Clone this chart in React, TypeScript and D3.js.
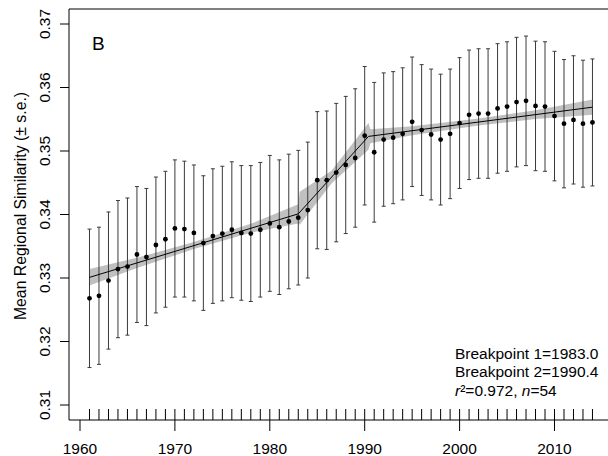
import React from "react";
import * as d3 from "d3";

const years = [1961,1962,1963,1964,1965,1966,1967,1968,1969,1970,1971,1972,1973,1974,1975,1976,1977,1978,1979,1980,1981,1982,1983,1984,1985,1986,1987,1988,1989,1990,1991,1992,1993,1994,1995,1996,1997,1998,1999,2000,2001,2002,2003,2004,2005,2006,2007,2008,2009,2010,2011,2012,2013,2014];
const means = [0.3268,0.3272,0.3296,0.3314,0.3318,0.3337,0.3333,0.3352,0.3361,0.3378,0.3377,0.3371,0.3355,0.3366,0.3370,0.3376,0.3371,0.3370,0.3376,0.3386,0.3380,0.3389,0.3395,0.3407,0.3454,0.3454,0.3466,0.3478,0.3489,0.3524,0.3498,0.3518,0.3521,0.3527,0.3546,0.3533,0.3526,0.3518,0.3527,0.3544,0.3557,0.3559,0.3559,0.3567,0.3570,0.3577,0.3579,0.3571,0.3570,0.3555,0.3543,0.3549,0.3543,0.3545];
const ses = [0.0109,0.0108,0.0108,0.0108,0.0108,0.0107,0.0108,0.0107,0.0107,0.0108,0.0107,0.0107,0.0106,0.0106,0.0106,0.0107,0.0106,0.0107,0.0106,0.0107,0.0106,0.0106,0.0106,0.0107,0.0108,0.0109,0.0109,0.0108,0.0109,0.0109,0.0110,0.0105,0.0104,0.0104,0.0102,0.0103,0.0103,0.0103,0.0102,0.0103,0.0102,0.0102,0.0102,0.0102,0.0102,0.0102,0.0102,0.0102,0.0102,0.0102,0.0101,0.0101,0.0100,0.0100];

const fitYears = [1961, 1983.0, 1990.4, 2014];
const fitValues = [0.3301, 0.3401, 0.3523, 0.3569];

const bandYears = [1961, 1966, 1972, 1978, 1983.0, 1983.15, 1986.5, 1990.4, 1990.6, 1995, 2002, 2008, 2014];
const bandUpper = [0.3314, 0.33317, 0.33565, 0.33853, 0.3416, 0.3436, 0.3469, 0.3544, 0.35344, 0.3539, 0.35511, 0.35643, 0.3581];
const bandLower = [0.3288, 0.33157, 0.33455, 0.33713, 0.3386, 0.3384, 0.3449, 0.3502, 0.35124, 0.3525, 0.35401, 0.35503, 0.3557];

const xTicks = [1960, 1970, 1980, 1990, 2000, 2010];
const yTicks = [0.31, 0.32, 0.33, 0.34, 0.35, 0.36, 0.37];

const annotations = ["Breakpoint 1=1983.0", "Breakpoint 2=1990.4"];

const W = 608, H = 456;
const FONT = "'Liberation Sans', Arial, Helvetica, sans-serif";

export default function App() {
  const x = d3.scaleLinear().domain([1960, 2010]).range([80, 554.5]);
  const y = d3.scaleLinear().domain([0.31, 0.37]).range([405, 24]);
  const left = 69, top = 9, bottom = 420;

  const bandData = bandYears.map((yr, i) => ({ yr, lo: bandLower[i], hi: bandUpper[i] }));
  const area = d3.area<any>().x(d => x(d.yr)).y0(d => y(d.lo)).y1(d => y(d.hi));
  const fitLine = d3.line<any>().x((d: any) => x(d[0])).y((d: any) => y(d[1]));
  const fitPts = fitYears.map((yr, i) => [yr, fitValues[i]]);

  return (
    <svg width={W} height={H} style={{ position: "absolute", left: 0, top: 0, background: "#fff" }} fontFamily={FONT}>
      <rect x={0} y={0} width={W} height={H} fill="#fff" />
      {/* band */}
      <path d={area(bandData) || ""} fill="#c0c0c0" stroke="none" />
      {/* error bars */}
      {years.map((yr, i) => {
        const cx = x(yr);
        const y1 = y(means[i] + ses[i]);
        const y2 = y(means[i] - ses[i]);
        return (
          <g key={"e" + yr} stroke="#3a3a3a" strokeWidth={1}>
            <line x1={cx} x2={cx} y1={y1} y2={y2} />
            <line x1={cx - 2} x2={cx + 2} y1={y1} y2={y1} />
            <line x1={cx - 2} x2={cx + 2} y1={y2} y2={y2} />
          </g>
        );
      })}
      {/* fit line */}
      <path d={fitLine(fitPts as any) || ""} fill="none" stroke="#000" strokeWidth={1} />
      {/* points */}
      {years.map((yr, i) => (
        <circle key={"p" + yr} cx={x(yr)} cy={y(means[i])} r={2.4} fill="#000" />
      ))}
      {/* rug */}
      {years.map(yr => (
        <line key={"r" + yr} x1={x(yr)} x2={x(yr)} y1={409} y2={bottom} stroke="#000" strokeWidth={1} />
      ))}
      {/* box */}
      <path d={`M${W},${top}H${left}V${bottom}H${W}`} fill="none" stroke="#000" strokeWidth={1} />
      {/* y axis ticks */}
      {yTicks.map(t => (
        <g key={"yt" + t}>
          <line x1={60} x2={left} y1={y(t)} y2={y(t)} stroke="#000" />
          <text transform={`translate(50,${y(t)}) rotate(-90)`} textAnchor="middle" fontSize={15.5} fill="#000">
            {t.toFixed(2)}
          </text>
        </g>
      ))}
      {/* x axis ticks */}
      {xTicks.map(t => (
        <g key={"xt" + t}>
          <line x1={x(t)} x2={x(t)} y1={bottom} y2={431} stroke="#000" />
          <text x={x(t)} y={453.5} textAnchor="middle" fontSize={15.5} fill="#000">{t}</text>
        </g>
      ))}
      {/* y label */}
      <text transform={`translate(26,206) rotate(-90)`} textAnchor="middle" fontSize={15.8} fill="#000">
        Mean Regional Similarity (± s.e.)
      </text>
      {/* panel letter */}
      <text x={92} y={50} fontSize={19} fill="#000">B</text>
      {/* annotations */}
      {annotations.map((a, i) => (
        <text key={a} x={455} y={358.5 + i * 18.5} fontSize={15.5} fill="#000">{a}</text>
      ))}
      <text x={455} y={395.5} fontSize={15.5} fill="#000">
        <tspan fontStyle="italic">r</tspan>
        <tspan>²=0.972, </tspan>
        <tspan fontStyle="italic">n</tspan>
        <tspan>=54</tspan>
      </text>
    </svg>
  );
}
